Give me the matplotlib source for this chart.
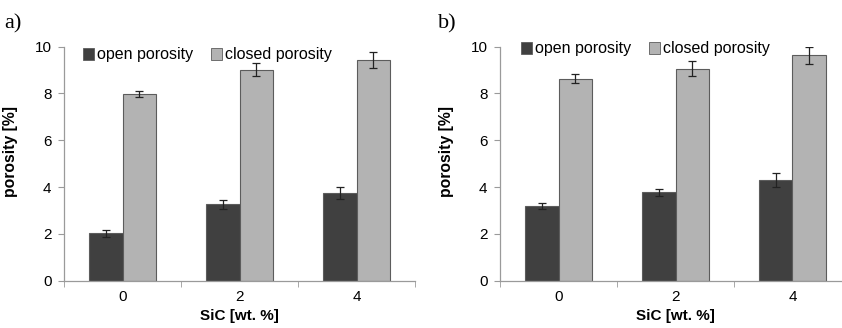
import matplotlib
matplotlib.use("Agg")
import matplotlib.pyplot as plt
from matplotlib.patches import Patch
import numpy as np

categories = ["0", "2", "4"]
series_names = ["open porosity", "closed porosity"]

a_open = [2.02, 3.27, 3.76]
a_open_err = [0.14, 0.20, 0.25]
a_closed = [7.96, 9.02, 9.42]
a_closed_err = [0.13, 0.27, 0.34]

b_open = [3.19, 3.77, 4.30]
b_open_err = [0.11, 0.16, 0.29]
b_closed = [8.63, 9.06, 9.63]
b_closed_err = [0.20, 0.31, 0.36]

panel_labels = ["a)", "b)"]
yticks = [0, 2, 4, 6, 8, 10]

plt.rcParams['font.family'] = ['Liberation Sans', 'DejaVu Sans']

W, H = 842, 328
fig = plt.figure(figsize=(W / 100, H / 100), dpi=100)

dark = "#404040"
light = "#b3b3b3"
edge = "#5c5c5c"
axcol = "#9a9a9a"

def panel(left_px, data, label, label_x, ylab_x, leg_anchor):
    op, ope, cl, cle = data
    ax = fig.add_axes([left_px / W, (H - 280.7) / H, 351 / W, 234 / H])
    x = np.arange(len(categories))
    w = 0.286
    ax.bar(x - w / 2, op, w, color=dark, edgecolor=edge, linewidth=0.8,
           yerr=ope, error_kw=dict(ecolor="#222222", elinewidth=0.9, capsize=3, capthick=0.9),
           label=series_names[0], zorder=2)
    ax.bar(x + w / 2, cl, w, color=light, edgecolor=edge, linewidth=0.8,
           yerr=cle, error_kw=dict(ecolor="#222222", elinewidth=0.9, capsize=3, capthick=0.9),
           label=series_names[1], zorder=2)
    ax.set_xlim(-0.5, 2.5)
    ax.set_ylim(0, 10)
    ax.set_yticks(yticks)
    ax.set_yticklabels([str(t) for t in yticks], fontsize=11)
    ax.set_xticks(x)
    ax.set_xticklabels(categories, fontsize=11)
    ax.set_xticks([-0.5, 0.5, 1.5, 2.5], minor=True)
    ax.tick_params(axis='x', which='major', length=0, pad=7)
    ax.tick_params(axis='x', which='minor', length=4, color=axcol, direction='out')
    ax.tick_params(axis='y', length=4, color=axcol, pad=5)
    for s in ['top', 'right']:
        ax.spines[s].set_visible(False)
    for s in ['left', 'bottom']:
        ax.spines[s].set_color(axcol)
        ax.spines[s].set_linewidth(0.9)
    ax.set_xlabel("SiC [wt. %]", fontsize=11, fontweight='bold', labelpad=3)
    ax.set_ylabel("porosity [%]", fontsize=11.3, fontweight='bold')
    ax.yaxis.set_label_coords((ylab_x - left_px) / 351, 0.552)
    handles = [Patch(facecolor=dark, edgecolor=edge, linewidth=0.6),
               Patch(facecolor=light, edgecolor=edge, linewidth=0.6)]
    ax.legend(handles, series_names, loc='center left', bbox_to_anchor=leg_anchor,
              ncol=2, frameon=False, fontsize=11.5, handlelength=0.7, handleheight=0.7,
              handletextpad=0.2, columnspacing=1.1, borderaxespad=0, borderpad=0)
    fig.text(label_x / W, 1 - 28 / H, label, fontsize=16, family=['Liberation Serif', 'DejaVu Serif'],
             ha='left', va='baseline')
    return ax

panel(64, (a_open, a_open_err, a_closed, a_closed_err), panel_labels[0], 4, 18,
      ((83 - 64) / 351, 1 - (55 - 46.7) / 234))
panel(500, (b_open, b_open_err, b_closed, b_closed_err), panel_labels[1], 438, 454,
      ((521 - 500) / 351, 1 - (49 - 46.7) / 234))

fig.savefig("out.png", dpi=100)
